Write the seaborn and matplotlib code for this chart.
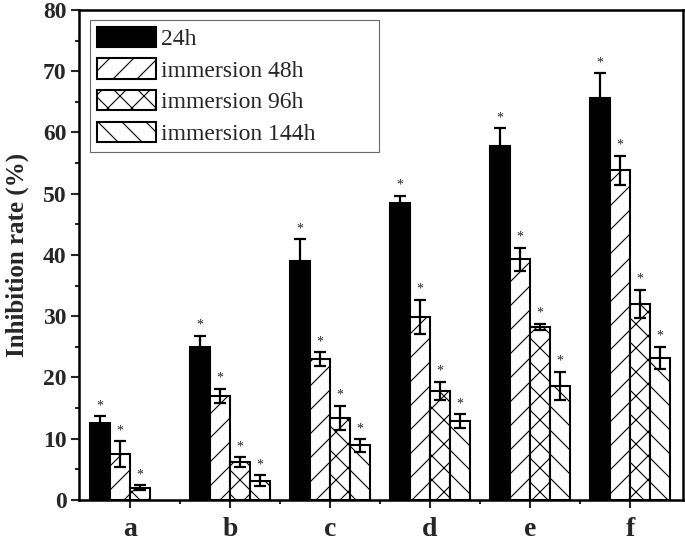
import numpy as np
import pandas as pd
import matplotlib
matplotlib.use("Agg")
import matplotlib.pyplot as plt
from matplotlib.patches import Patch
from matplotlib.ticker import MultipleLocator
import seaborn as sns

groups = ["a", "b", "c", "d", "e", "f"]
series = ["24h", "immersion 48h", "immersion 96h", "immersion 144h"]

rate_24h = [12.5, 25.0, 39.0, 48.5, 57.8, 65.6]
rate_48h = [7.5, 17.0, 23.0, 29.9, 39.3, 53.8]
rate_96h = [2.0, 6.2, 13.4, 17.8, 28.3, 32.0]
rate_144h = [np.nan, 3.1, 8.9, 12.9, 18.6, 23.2]

err_24h = [1.2, 1.8, 3.6, 1.2, 2.9, 4.1]
err_48h = [2.1, 1.2, 1.1, 2.8, 1.9, 2.4]
err_96h = [0.4, 0.8, 2.0, 1.5, 0.5, 2.3]
err_144h = [np.nan, 0.9, 1.0, 1.1, 2.3, 1.8]

values = [rate_24h, rate_48h, rate_96h, rate_144h]
errors = [err_24h, err_48h, err_96h, err_144h]
hatches = ["", "/", "x", "\\"]
faces = ["black", "white", "white", "white"]

rows = []
for s, vals in zip(series, values):
    for g, v in zip(groups, vals):
        rows.append({"group": g, "series": s, "rate": v})
df = pd.DataFrame(rows)

sns.set_style("ticks")
plt.rcParams["font.family"] = ["Liberation Serif", "DejaVu Serif"]
plt.rcParams["hatch.linewidth"] = 1.1

# drawn at 72 dpi so the hatch spacing matches; k converts old sizes
DPI = 72
k = 100 / 72

fig = plt.figure(figsize=(685 / DPI, 549 / DPI), dpi=DPI)
ax = fig.add_axes([0.1153, 0.0893, 0.8817, 0.8925])

sns.barplot(data=df, x="group", y="rate", hue="series", order=groups,
            hue_order=series, errorbar=None, width=0.8, ax=ax,
            edgecolor="black", linewidth=1.5 * k, legend=False)

for cont, hatch, fc in zip(ax.containers, hatches, faces):
    for bar in cont:
        bar.set_facecolor(fc)
        bar.set_edgecolor("black")
        bar.set_hatch(hatch)
        bar.set_linewidth(1.5 * k)

# error bars and significance stars
bw = 0.2
for j, (vals, errs) in enumerate(zip(values, errors)):
    for i, (v, e) in enumerate(zip(vals, errs)):
        if np.isnan(v):
            continue
        x = i + (j - 1.5) * bw
        ax.errorbar(x, v, yerr=e, color="black", elinewidth=1.6 * k,
                    capsize=4.5 * k, capthick=1.6 * k, zorder=5)
        ax.annotate("*", (x, v + e), xytext=(0, 5 * k), textcoords="offset points",
                    ha="center", va="baseline", fontsize=10 * k)

ax.set_xlim(-0.51, 5.53)
ax.set_ylim(0, 80)
ax.yaxis.set_major_locator(MultipleLocator(10))
ax.yaxis.set_minor_locator(MultipleLocator(5))
ax.set_xticks(range(len(groups)))
ax.set_xticks(np.arange(0.5, 5.0, 1.0), minor=True)
ax.set_xticklabels(groups, fontsize=20 * k, fontweight="bold")
for lab in ax.get_yticklabels():
    lab.set_fontsize(17 * k)
    lab.set_fontweight("bold")
ax.tick_params(which="major", direction="out", length=6 * k, width=1.5 * k, pad=3 * k)
ax.tick_params(which="minor", direction="out", length=3 * k, width=1.5 * k)
ax.tick_params(axis="x", which="major", pad=6 * k)
ax.tick_params(right=False, top=False, which="both")

ax.set_xlabel("")
ax.set_ylabel("Inhibition rate (%)", fontsize=18 * k, fontweight="bold", labelpad=14)

for sp in ax.spines.values():
    sp.set_visible(True)
    sp.set_linewidth(1.8 * k)
    sp.set_color("black")

handles = [Patch(facecolor=fc, edgecolor="black", hatch=h, linewidth=1.5 * k)
           for fc, h in zip(faces, hatches)]
leg = ax.legend(handles, series, loc="upper left", fontsize=17 * k,
                bbox_to_anchor=(0.018, 0.5, 0.478, 0.48), mode="expand",
                frameon=True, fancybox=False,
                handlelength=2.5, handleheight=0.95, labelspacing=0.35,
                handletextpad=0.2, borderpad=0.3, borderaxespad=0)
leg.get_frame().set_edgecolor("#444444")
leg.get_frame().set_linewidth(0.8 * k)

fig.savefig("out.png", dpi=DPI)
